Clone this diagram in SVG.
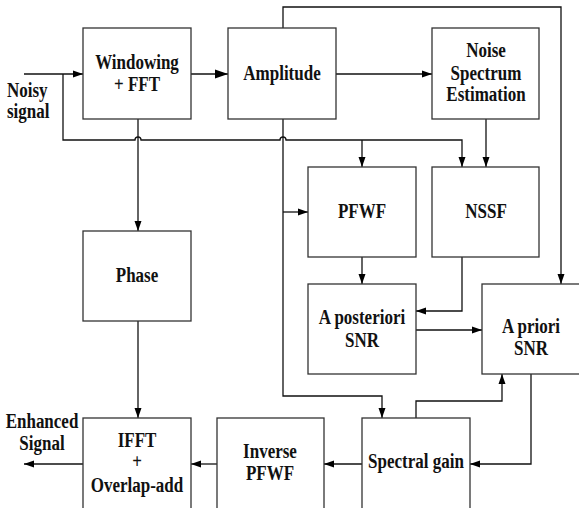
<svg xmlns="http://www.w3.org/2000/svg" width="579" height="508" viewBox="0 0 579 508">
<defs>
<marker id="a" markerUnits="userSpaceOnUse" markerWidth="10" markerHeight="8" refX="10" refY="4" orient="auto"><path d="M0,0.5 L10,4 L0,7.5 z" fill="#000"/></marker>
<marker id="b" markerUnits="userSpaceOnUse" markerWidth="13" markerHeight="10" refX="13" refY="5" orient="auto"><path d="M0,0.5 L13,5 L0,9.5 z" fill="#000"/></marker>
<style>
rect{fill:#fff;stroke:#333;stroke-width:1.3}
#connectors path{fill:none;stroke:#111;stroke-width:1.3}
text{font-family:"Liberation Serif","Times New Roman",serif;font-weight:bold;font-size:20px;fill:#111;text-anchor:middle}
.l{text-anchor:start}
</style>
</defs>
<rect width="579" height="508" style="fill:#fff;stroke:none"/>
<g id="connectors">
<path d="M24,74 H83" marker-end="url(#a)"/>
<path d="M63,74 V140 H135 a3,3 0 0 1 6,0 H280 a3,3 0 0 1 6,0 H462 V167" marker-end="url(#a)"/>
<path d="M362,140 V167" marker-end="url(#a)"/>
<path d="M191,74 H228" marker-end="url(#b)"/>
<path d="M336,74 H432" marker-end="url(#a)"/>
<path d="M283,28 V7 H561 V284" marker-end="url(#a)"/>
<path d="M486,119 V167" marker-end="url(#a)"/>
<path d="M138,119 V231" marker-end="url(#a)"/>
<path d="M138,321 V418" marker-end="url(#a)"/>
<path d="M283,119 V396 H382 V418" marker-end="url(#a)"/>
<path d="M283,212 H308" marker-end="url(#a)"/>
<path d="M362,257 V284" marker-end="url(#a)"/>
<path d="M462,257 V311 H416" marker-end="url(#a)"/>
<path d="M416,330 H482" marker-end="url(#a)"/>
<path d="M416,418 V401 H502 V374" marker-end="url(#a)"/>
<path d="M531,374 V464 H470" marker-end="url(#a)"/>
<path d="M362,464 H324" marker-end="url(#a)"/>
<path d="M217,464 H191" marker-end="url(#a)"/>
<path d="M83,464 H24" marker-end="url(#a)"/>
</g>
<g id="windowing"><rect x="83" y="28" width="108" height="91"/>
<text transform="translate(137,69) scale(0.85,1)">Windowing</text>
<text transform="translate(137,91) scale(0.85,1)">+ FFT</text></g>
<g id="amplitude"><rect x="228" y="28" width="108" height="91"/>
<text transform="translate(282,80) scale(0.85,1)">Amplitude</text></g>
<g id="nse"><rect x="432" y="28" width="107" height="91"/>
<text transform="translate(486,57) scale(0.85,1)">Noise</text>
<text transform="translate(486,80) scale(0.85,1)">Spectrum</text>
<text transform="translate(486,101) scale(0.85,1)">Estimation</text></g>
<g id="noisy">
<text class="l" transform="translate(7,97) scale(0.85,1)">Noisy</text>
<text class="l" transform="translate(7,118) scale(0.85,1)">signal</text></g>
<g id="pfwf"><rect x="308" y="167" width="108" height="90"/>
<text transform="translate(362,218) scale(0.85,1)">PFWF</text></g>
<g id="nssf"><rect x="432" y="167" width="107" height="90"/>
<text transform="translate(486,218) scale(0.85,1)">NSSF</text></g>
<g id="phase"><rect x="83" y="231" width="108" height="90"/>
<text transform="translate(137,282) scale(0.85,1)">Phase</text></g>
<g id="aposteriori"><rect x="308" y="284" width="108" height="90"/>
<text transform="translate(362,324) scale(0.85,1)">A posteriori</text>
<text transform="translate(362,347) scale(0.85,1)">SNR</text></g>
<g id="apriori"><rect x="482" y="284" width="110" height="90"/>
<text transform="translate(531,333) scale(0.85,1)">A priori</text>
<text transform="translate(531,355) scale(0.85,1)">SNR</text></g>
<g id="spectralgain"><rect x="362" y="418" width="108" height="100"/>
<text transform="translate(416,468) scale(0.85,1)">Spectral gain</text></g>
<g id="inversepfwf"><rect x="217" y="418" width="107" height="100"/>
<text transform="translate(270,458) scale(0.85,1)">Inverse</text>
<text transform="translate(270,480) scale(0.85,1)">PFWF</text></g>
<g id="ifft"><rect x="83" y="418" width="108" height="100"/>
<text transform="translate(137,447) scale(0.85,1)">IFFT</text>
<text transform="translate(137,468) scale(0.85,1)">+</text>
<text transform="translate(137,492) scale(0.85,1)">Overlap-add</text></g>
<g id="enhanced">
<text transform="translate(42,428) scale(0.85,1)">Enhanced</text>
<text transform="translate(42,450) scale(0.85,1)">Signal</text></g>
</svg>
